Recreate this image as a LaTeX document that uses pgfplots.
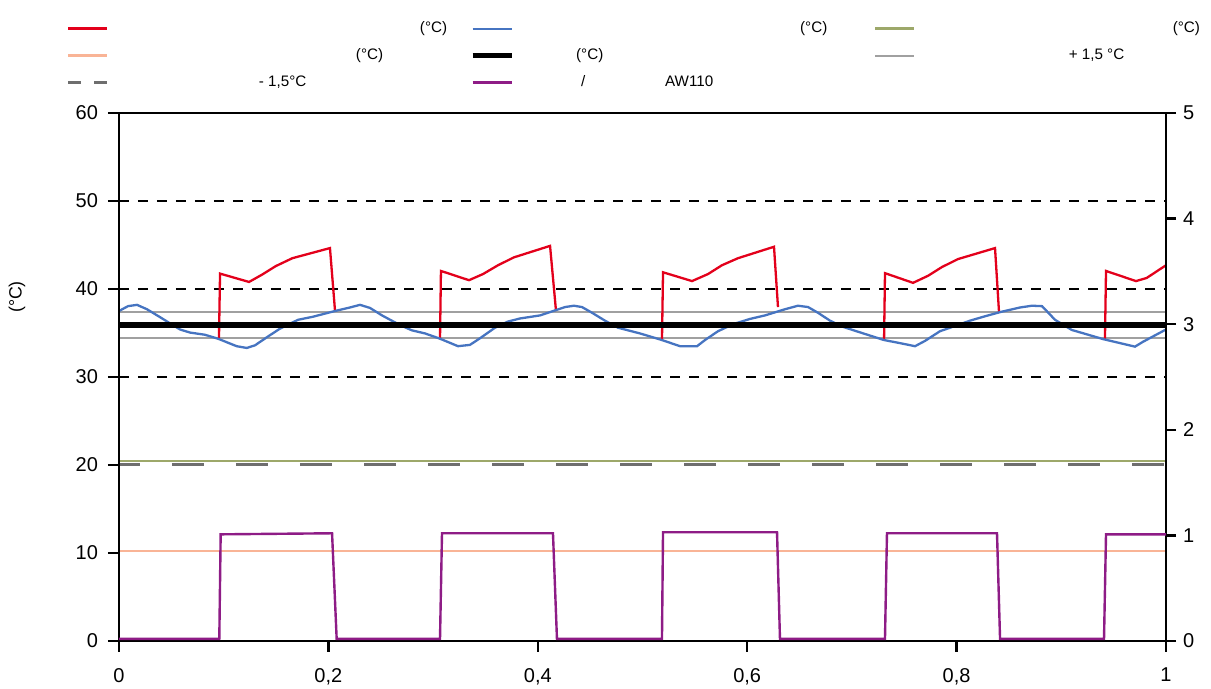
\documentclass[border=0pt]{standalone}
\usepackage{pgfplots}
\pgfplotsset{compat=1.18}
\usepackage{fontspec}
\setmainfont{Liberation Sans}
\definecolor{cred}{HTML}{E3001B}
\definecolor{cblue}{HTML}{4674C1}
\definecolor{corange}{HTML}{F9B496}
\definecolor{cgreen}{HTML}{9DA86A}
\definecolor{cgray}{HTML}{A0A0A0}
\definecolor{cdgray}{HTML}{6E6E6E}
\definecolor{cpurple}{HTML}{8E1C86}
\begin{document}
\begin{tikzpicture}
\useasboundingbox (-59.5pt,-24pt) rectangle (546pt,320.5pt);
\begin{axis}[
 scale only axis, width=523.5pt, height=264pt,
 xmin=0,xmax=1,ymin=0,ymax=60,
 xtick={0,0.2,0.4,0.6,0.8,1}, xticklabels={0,{0,2},{0,4},{0,6},{0,8},1},
 ytick={0,10,...,60},
 xtick pos=bottom, ytick pos=left,
 xtick align=outside, ytick align=outside,
 major tick length=5.5pt,
 tick style={black, line width=1.2pt},
 axis line style={line width=1.2pt},
 tick label style={font=\fontsize{10}{12}\selectfont},
 xticklabel style={yshift=-4.5pt},
 yticklabel style={xshift=-1.5pt},
 /pgf/number format/assume math mode=true,
 ylabel={(°C)},
 ylabel style={font=\fontsize{8.9}{10}\selectfont, at={(axis description cs:-0.0974,0.6515)}, anchor=center},
 unbounded coords=jump,
 legend columns=3,
 legend image code/.code={\draw[#1] (0pt,0pt) -- (19.5pt,0pt);},
 legend style={at={(axis description cs:-0.0497,1.1735)}, anchor=north west, draw=none, fill=none,
   inner sep=0pt, outer sep=0pt, font=\fontsize{7.6}{9}\selectfont,
   nodes={inner sep=0pt, outer sep=0pt, text height=5.6pt, text depth=1.6pt},
   column sep=0pt, row sep=6.3pt},
 legend cell align=left,
]
\addplot[black, line width=1.2pt, dash pattern=on 5pt off 4.5pt, forget plot] coordinates {(0,30) (1,30)};
\addplot[black, line width=1.2pt, dash pattern=on 5pt off 4.5pt, forget plot] coordinates {(0,40) (1,40)};
\addplot[black, line width=1.2pt, dash pattern=on 5pt off 4.5pt, forget plot] coordinates {(0,50) (1,50)};
\addplot[cdgray, line width=1.5pt, dash pattern=on 16pt off 16pt, dash phase=5.5pt, forget plot] coordinates {(0,20) (1,20)};
\addplot[cgreen, line width=1.1pt, forget plot] coordinates {(0,20.45) (1,20.45)};
\addplot[corange, line width=1.1pt, forget plot] coordinates {(0,10.2) (1,10.2)};
\addplot[cgray, line width=0.8pt, forget plot] coordinates {(0,37.4) (1,37.4)};
\addplot[cgray, line width=0.8pt, forget plot] coordinates {(0,34.4) (1,34.4)};
% red
\addplot[cred, line width=1.15pt, forget plot] coordinates {
(0.0955,34.4) (0.0965,41.75) (0.1242,40.8) (0.1369,41.65) (0.1497,42.6) (0.1656,43.5) (0.2015,44.65) (0.2063,37.55)
(0.21,nan)
(0.3066,34.3) (0.3075,42.05) (0.3343,41.0) (0.3477,41.7) (0.3620,42.7) (0.3773,43.6) (0.4117,44.9) (0.4174,37.5)
(0.42,nan)
(0.5186,34.1) (0.5196,41.9) (0.5473,40.9) (0.5626,41.7) (0.5759,42.7) (0.5912,43.5) (0.6256,44.8) (0.6294,37.95)
(0.63,nan)
(0.7307,34.1) (0.7316,41.8) (0.7584,40.7) (0.7727,41.5) (0.7861,42.5) (0.8013,43.4) (0.8367,44.65) (0.8405,37.4)
(0.85,nan)
(0.9417,34.3) (0.9427,42.05) (0.9713,40.9) (0.9815,41.25) (1.0,42.7)
};
% blue
\addplot[cblue, line width=1.15pt, forget plot] coordinates {
(0,37.5) (0.0086,38.05) (0.0172,38.2) (0.0267,37.7) (0.0392,36.8) (0.0487,36.1) (0.0583,35.4) (0.0678,35.05)
(0.0821,34.8) (0.0946,34.35) (0.1124,33.5) (0.1220,33.3) (0.1299,33.6) (0.1423,34.6) (0.1538,35.5) (0.1710,36.5)
(0.1853,36.85) (0.2063,37.5) (0.2206,37.9) (0.2302,38.2) (0.2397,37.85) (0.2512,37.0) (0.2684,35.9) (0.2798,35.3)
(0.2923,34.95) (0.3066,34.35) (0.3238,33.5) (0.3352,33.65) (0.3448,34.4) (0.3591,35.6) (0.3715,36.3) (0.3830,36.65)
(0.4021,37.0) (0.4174,37.6) (0.4260,37.95) (0.4346,38.1) (0.4422,37.95) (0.4518,37.3) (0.4642,36.4) (0.4766,35.6)
(0.4976,34.95) (0.5186,34.2) (0.5358,33.5) (0.5521,33.5) (0.5597,34.2) (0.5721,35.2) (0.5864,36.0) (0.6027,36.6)
(0.6170,37.0) (0.6361,37.7) (0.6485,38.1) (0.6581,37.95) (0.6676,37.3) (0.6791,36.4) (0.6915,35.7) (0.7096,35.0)
(0.7307,34.2) (0.7459,33.85) (0.7603,33.5) (0.7698,34.1) (0.7841,35.2) (0.7985,35.8) (0.8128,36.4) (0.8271,36.9)
(0.8424,37.4) (0.8606,37.9) (0.8720,38.1) (0.8816,38.05) (0.8940,36.5) (0.9099,35.35) (0.9401,34.3) (0.9704,33.45)
(0.9780,34.0) (1.0,35.4)
};
\addplot[black, line width=2.7pt, forget plot] coordinates {(0,35.9) (1,35.9)};
% legend
\addlegendimage{cred, line width=1.5pt}
\addlegendentry{\makebox[180.5pt][l]{\hspace*{155.5pt}(°C)}}
\addlegendimage{cblue, line width=1.1pt}
\addlegendentry{\makebox[180pt][l]{\hspace*{143pt}(°C)}}
\addlegendimage{cgreen, line width=1.3pt}
\addlegendentry{\makebox[145pt][l]{\hspace*{128.5pt}(°C)}}
\addlegendimage{corange, line width=1.5pt}
\addlegendentry{\makebox[180.5pt][l]{\hspace*{123.5pt}(°C)}}
\addlegendimage{black, line width=2.6pt}
\addlegendentry{\makebox[180pt][l]{\hspace*{31pt}(°C)}}
\addlegendimage{cgray, line width=1.1pt}
\addlegendentry{\makebox[145pt][l]{\hspace*{76.5pt}+ 1,5 °C}}
\addlegendimage{cdgray, line width=1.5pt, dash pattern=on 6.5pt off 6.5pt}
\addlegendentry{\makebox[180.5pt][l]{\hspace*{75pt}- 1,5°C}}
\addlegendimage{cpurple, line width=1.3pt}
\addlegendentry{\makebox[180pt][l]{\hspace*{33.5pt}\makebox[42pt][l]{/}AW110}}
\end{axis}
\begin{axis}[
 scale only axis, width=523.5pt, height=264pt,
 xmin=0,xmax=1,ymin=0,ymax=5,
 xtick=\empty,
 ytick={0,1,2,3,4,5},
 ytick pos=right, yticklabel pos=right,
 ytick align=outside,
 major tick length=5pt,
 ytick style={black, line width=1.2pt},
 axis line style={line width=1.2pt},
 tick label style={font=\fontsize{10}{12}\selectfont},
 /pgf/number format/assume math mode=true,
]
\addplot[cpurple, line width=1.2pt] coordinates {
(0,0.02) (0.0958,0.02) (0.0971,1.01) (0.2035,1.02) (0.2079,0.02)
(0.3066,0.02) (0.3085,1.02) (0.4145,1.02) (0.4183,0.02)
(0.5186,0.02) (0.5196,1.03) (0.6285,1.03) (0.6313,0.02)
(0.7316,0.02) (0.7335,1.02) (0.8386,1.02) (0.8415,0.02)
(0.9408,0.02) (0.9427,1.01) (1.0,1.01)
};
\end{axis}
\end{tikzpicture}
\end{document}
